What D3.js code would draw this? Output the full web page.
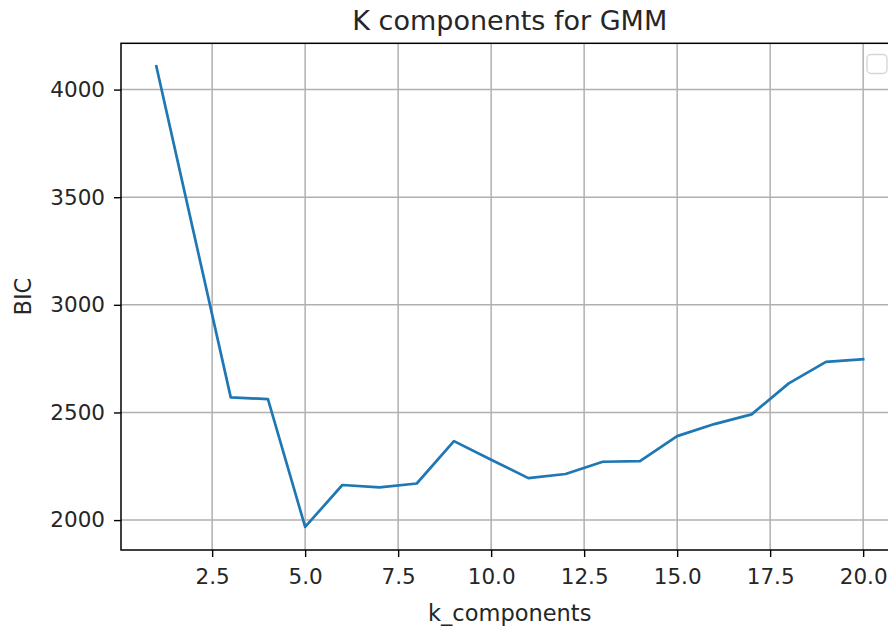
<!DOCTYPE html>
<html>
<head>
<meta charset="utf-8">
<script src="https://cdn.jsdelivr.net/npm/d3@7"></script>
<style>
  html, body { margin: 0; padding: 0; background: #fff; }
  svg { display: block; }
  text { font-family: "DejaVu Sans", sans-serif; fill: #262626; }
</style>
</head>
<body>
<svg id="chart" width="888" height="626"></svg>
<script>
const kComponents = [1,2,3,4,5,6,7,8,9,10,11,12,13,14,15,16,17,18,19,20];
const bicValues = [4108,3339,2570,2562,1968,2163,2152,2170,2367,2280,2195,2214,2271,2274,2390,2446,2491,2635,2735,2747];
const xTicks = [2.5,5.0,7.5,10.0,12.5,15.0,17.5,20.0];
const yTicks = [2000,2500,3000,3500,4000];
const titleText = "K components for GMM";
const xLabel = "k_components";
const yLabel = "BIC";

const svg = d3.select("#chart");
const L = 121, R = 898.5, T = 43.3, B = 550;

const xMin = d3.min(kComponents), xMax = d3.max(kComponents);
const xPad = (xMax - xMin) * 0.05;
const x = d3.scaleLinear().domain([xMin - xPad, xMax + xPad]).range([L, R]);
const yMin = d3.min(bicValues), yMax = d3.max(bicValues);
const yPad = (yMax - yMin) * 0.05;
const y = d3.scaleLinear().domain([yMin - yPad, yMax + yPad]).range([B, T]);

// grid
const grid = svg.append("g");
grid.selectAll("line.gx").data(xTicks).enter().append("line")
  .attr("x1", d => x(d)).attr("x2", d => x(d)).attr("y1", T).attr("y2", B)
  .attr("stroke", "#b0b0b0").attr("stroke-width", 1.5);
grid.selectAll("line.gy").data(yTicks).enter().append("line")
  .attr("y1", d => y(d)).attr("y2", d => y(d)).attr("x1", L).attr("x2", R)
  .attr("stroke", "#b0b0b0").attr("stroke-width", 1.5);

// line
const line = d3.line().x((d, i) => x(kComponents[i])).y(d => y(d));
svg.append("path").datum(bicValues)
  .attr("d", line).attr("fill", "none")
  .attr("stroke", "#1f77b4").attr("stroke-width", 2.7)
  .attr("stroke-linejoin", "round").attr("stroke-linecap", "square");

// axes
const xAxis = d3.axisBottom(x).tickValues(xTicks).tickFormat(d3.format(".1f")).tickSize(7).tickPadding(12);
const yAxis = d3.axisLeft(y).tickValues(yTicks).tickFormat(d3.format("d")).tickSize(7).tickPadding(9);
const gx = svg.append("g").attr("transform", `translate(0,${B})`).call(xAxis);
const gy = svg.append("g").attr("transform", `translate(${L},0)`).call(yAxis);
[gx, gy].forEach(g => {
  g.select(".domain").remove();
  g.selectAll(".tick line").attr("stroke", "#000").attr("stroke-width", 1.4);
  g.selectAll(".tick text").attr("font-size", 21.5).attr("fill", "#262626")
    .style("font-family", "'DejaVu Sans', sans-serif");
});

// spines
svg.append("rect").attr("x", L).attr("y", T).attr("width", R - L).attr("height", B - T)
  .attr("fill", "none").attr("stroke", "#000").attr("stroke-width", 1.5);

// empty legend box
svg.append("rect").attr("x", 867).attr("y", 54.5).attr("width", 20).attr("height", 19).attr("rx", 4)
  .attr("fill", "#fff").attr("fill-opacity", 0.8).attr("stroke", "#d6d6d6").attr("stroke-width", 1.4);

// title & labels
svg.append("text").attr("x", (L + R) / 2).attr("y", 30).attr("text-anchor", "middle")
  .attr("font-size", 27).text(titleText);
svg.append("text").attr("x", (L + R) / 2).attr("y", 621).attr("text-anchor", "middle")
  .attr("font-size", 22.5).text(xLabel);
svg.append("text").attr("transform", `translate(31,${(T + B) / 2}) rotate(-90)`)
  .attr("text-anchor", "middle").attr("font-size", 22.5).text(yLabel);
</script>
</body>
</html>
